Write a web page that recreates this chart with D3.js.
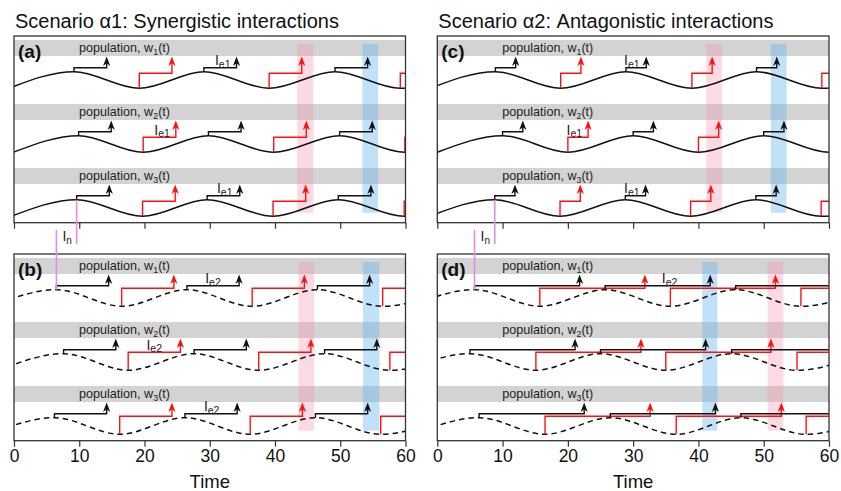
<!DOCTYPE html>
<html><head><meta charset="utf-8">
<script src="https://cdn.jsdelivr.net/npm/d3@7"></script>
<style>
html,body{margin:0;padding:0;background:#fff;}
svg{display:block;font-family:"Liberation Sans",Arial,Helvetica,sans-serif;}
</style>
</head><body>
<svg id="chart" width="841" height="491"></svg>
<script>
// ================= DATA =================
const timeTicks = [0, 10, 20, 30, 40, 50, 60];
const timeDomain = [0, 60];
const halfPeriod = 10;
const titles = ["Scenario \u03b11: Synergistic interactions", "Scenario \u03b12: Antagonistic interactions"];
const panelLabels = ["(a)", "(b)", "(c)", "(d)"];
const rowNames = ["1", "2", "3"];
const intervalNames = ["e1", "e2", "e1", "e2"];
const intervals = [5.0, 8.0, 3.1, 16.1];          // I_e length (time units) per panel

// peak / trough times of w_i(t) per row, per panel
const peaksA   = [[9.2, 29.1, 49.2], [9.9, 29.8, 49.9], [9.6, 29.6, 49.7]];
const troughsA = [[19.2, 39.1, 59.2], [19.8, 39.8, 59.9], [19.7, 39.7, 59.8]];
const peaksB   = [[6.5, 26.5, 46.5], [7.6, 27.6, 47.6], [6.2, 26.2, 46.2]];
const troughsB = [[16.5, 36.5, 56.5], [17.5, 37.5, 57.6], [16.2, 36.2, 56.2]];
const peaksC   = [[8.9, 28.9, 48.9], [10.0, 30.0, 50.0], [8.8, 28.8, 48.8]];
const troughsC = [[18.9, 39.0, 58.9], [20.0, 40.0, 60.0], [18.8, 38.8, 58.8]];
const peaksD   = [[5.7, 25.7, 45.7], [5.0, 25.0, 45.1], [6.4, 26.5, 46.5]];
const troughsD = [[15.7, 35.7, 55.7], [15.1, 35.0, 55.1], [16.5, 36.6, 56.5]];

// highlighted time windows
const pinkWindows = [[43.4, 45.9], [43.6, 46.0], [41.2, 43.6], [50.6, 53.0]];
const blueWindows = [[53.4, 55.8], [53.5, 56.0], [51.1, 53.5], [40.6, 42.9]];

// I_e label anchors: [row, time, attached step type]
const ieLabelsA = [[0, 30.8, "black"], [1, 21.5, "red"], [2, 31.1, "black"]];
const ieLabelsB = [[0, 29.3, "black"], [1, 20.3, "red"], [2, 29.1, "black"]];
const ieLabelsC = [[0, 28.6, "black"], [1, 19.8, "red"], [2, 28.6, "black"]];
const ieLabelsD = [[0, 34.4, "black"]];

// ================= LAYOUT =================
const svg = d3.select("#chart");
const colRanges = [[14, 405.5], [437.3, 829]];
const panelTops = [36, 254];
const panelH = 186.7;
const unitPx = 8.3;                 // 1 population unit (wave amplitude) in px
const yMax = panelH / unitPx;
const rowCenter0 = yMax - 44 / unitPx;
const rowGap = 64 / unitPx;
const bandLo = 24 / unitPx, bandHi = 40 / unitPx;
const blackLvl = 12.3 / unitPx;
const redLvlTop = 6.7 / unitPx, redLvlBot = 9.7 / unitPx;
const tipLvl = 23.5 / unitPx;
const shadeTop = 36 / unitPx, shadeBot = -4.7 / unitPx;

const panels = [
  {col: 0, row: 0, peaks: peaksA, troughs: troughsA, dashed: false, labels: ieLabelsA},
  {col: 0, row: 1, peaks: peaksB, troughs: troughsB, dashed: true,  labels: ieLabelsB},
  {col: 1, row: 0, peaks: peaksC, troughs: troughsC, dashed: false, labels: ieLabelsC},
  {col: 1, row: 1, peaks: peaksD, troughs: troughsD, dashed: true,  labels: ieLabelsD}
];

const arrowPath = (px, py) => `M${px},${py}L${px + 3.6},${py + 9.5}L${px},${py + 6.8}L${px - 3.6},${py + 9.5}Z`;

const defs = svg.append("defs");

panels.forEach((p, pi) => {
  const top = panelTops[p.row];
  const x = d3.scaleLinear().domain(timeDomain).range(colRanges[p.col]);
  const y = d3.scaleLinear().domain([0, yMax]).range([top + panelH, top]);
  p.x = x; p.y = y;
  const [x0, x1] = colRanges[p.col];
  const I = intervals[pi];
  const redLvl = p.row === 0 ? redLvlTop : redLvlBot;
  const center = r => rowCenter0 - r * rowGap;

  defs.append("clipPath").attr("id", "clip" + pi)
    .append("rect").attr("x", x0).attr("y", top).attr("width", x1 - x0).attr("height", panelH);

  const g = svg.append("g");
  const gc = g.append("g").attr("clip-path", `url(#clip${pi})`);

  // grey population bands
  rowNames.forEach((rn, r) => {
    gc.append("rect")
      .attr("x", x0).attr("width", x1 - x0)
      .attr("y", y(center(r) + bandHi)).attr("height", y(center(r) + bandLo) - y(center(r) + bandHi))
      .attr("fill", "#d3d3d3");
  });

  // highlight windows
  [[pinkWindows[pi], "rgba(247,150,175,0.35)"], [blueWindows[pi], "rgba(106,184,238,0.42)"]].forEach(([w, c]) => {
    gc.append("rect")
      .attr("x", x(w[0])).attr("width", x(w[1]) - x(w[0]))
      .attr("y", y(center(0) + shadeTop)).attr("height", y(center(2) + shadeBot) - y(center(0) + shadeTop))
      .attr("fill", c);
  });

  // population labels
  rowNames.forEach((rn, r) => {
    const t = g.append("text")
      .attr("x", x0 + 65).attr("y", y(center(r) + bandHi) + 12)
      .attr("font-size", 12.6).attr("fill", "#222");
    t.append("tspan").text("population, w");
    t.append("tspan").attr("font-size", 8.8).attr("dy", 3).text(rn);
    t.append("tspan").attr("dy", -3).text("(t)");
  });

  // waves
  const line = d3.line().x(d => x(d.t)).y(d => d.y).curve(d3.curveMonotoneX);
  rowNames.forEach((rn, r) => {
    let ext = p.peaks[r].map(t => ({t, v: 1})).concat(p.troughs[r].map(t => ({t, v: -1})));
    ext.sort((a, b) => a.t - b.t);
    ext = [{t: ext[0].t - halfPeriod, v: -ext[0].v}].concat(ext, [{t: ext[ext.length - 1].t + halfPeriod, v: -ext[ext.length - 1].v}]);
    gc.append("path")
      .datum(ext.map(d => ({t: d.t, y: y(center(r) + d.v)})))
      .attr("d", line)
      .attr("fill", "none").attr("stroke", "#111").attr("stroke-width", 1.5)
      .attr("stroke-dasharray", p.dashed ? "5.5,4" : null);
  });

  // interval steps with arrows
  rowNames.forEach((rn, r) => {
    const steps = p.troughs[r].filter(t => t < 60).map(t => ({t, v: -1, lvl: redLvl, c: "#ff1010"}))
      .concat(p.peaks[r].filter(t => t < 60).map(t => ({t, v: 1, lvl: blackLvl, c: "#111"})));
    steps.forEach(s => {
      const xs = x(s.t), xe = x(s.t + I);
      const yStart = y(center(r) + s.v), yL = y(center(r) + s.lvl), yTip = y(center(r) + tipLvl);
      gc.append("path")
        .attr("d", `M${xs},${yStart}V${yL}H${xe}V${yTip + 5}`)
        .attr("fill", "none").attr("stroke", s.c).attr("stroke-width", 1.4);
      gc.append("path").attr("d", arrowPath(xe, yTip)).attr("fill", s.c);
    });
  });

  // I_e labels
  p.labels.forEach(([r, t, kind]) => {
    const lvl = kind === "black" ? blackLvl : redLvl;
    const tx = g.append("text")
      .attr("x", x(t)).attr("y", y(center(r) + lvl) - 2.5)
      .attr("font-size", 14).attr("fill", "#222");
    tx.append("tspan").text("I");
    tx.append("tspan").attr("font-size", 10.5).attr("dy", 2.5).text(intervalNames[pi]);
  });

  // axis
  const axis = d3.axisBottom(x).tickValues(timeTicks).tickSize(6).tickSizeOuter(0);
  if (p.row === 0) axis.tickFormat("");
  const ga = g.append("g").attr("transform", `translate(0,${top + panelH})`).call(axis);
  ga.select(".domain").remove();
  ga.selectAll(".tick line").attr("stroke", "#333").attr("stroke-width", 1.2);
  ga.selectAll(".tick text").attr("font-size", 17.5).attr("fill", "#111")
    .attr("font-family", "'Liberation Sans',Arial,sans-serif");

  // frame
  g.append("rect").attr("x", x0).attr("y", top).attr("width", x1 - x0).attr("height", panelH)
    .attr("fill", "none").attr("stroke", "#333").attr("stroke-width", 1.3);

  // panel label
  g.append("text").attr("x", x0 + 4).attr("y", top + 21.5)
    .attr("font-size", 19).attr("font-weight", "bold").attr("fill", "#111").text(panelLabels[pi]);

  if (p.row === 1) {
    g.append("text").attr("x", (x0 + x1) / 2).attr("y", 488).attr("text-anchor", "middle")
      .attr("font-size", 18.5).attr("fill", "#111").text("Time");
  }
});

// titles
titles.forEach((t, i) => {
  svg.append("text").attr("x", colRanges[i][0] + 1).attr("y", 28)
    .attr("font-size", 20).attr("fill", "#111").text(t);
});

// I_n markers (between top and bottom panels)
[[0, 1], [2, 3]].forEach(([ti, bi]) => {
  const pt = panels[ti], pb = panels[bi];
  const tTop = pt.peaks[2][0], tBot = pb.peaks[0][0];
  const cTop = rowCenter0 - 2 * rowGap, cBot = rowCenter0;
  const xa = pt.x(tTop), xb = pb.x(tBot);
  svg.append("line").attr("x1", xa).attr("x2", xa)
    .attr("y1", pt.y(cTop + 1)).attr("y2", pt.y(-2.6))
    .attr("stroke", "#e68ce6").attr("stroke-width", 1.6);
  svg.append("line").attr("x1", xb).attr("x2", xb)
    .attr("y1", pb.y(25.4)).attr("y2", pb.y(cBot + 1))
    .attr("stroke", "#e68ce6").attr("stroke-width", 1.6);
  const tx = svg.append("text").attr("x", xb + 6).attr("y", pt.y(-2.2))
    .attr("font-size", 14).attr("fill", "#222");
  tx.append("tspan").text("I");
  tx.append("tspan").attr("font-size", 10).attr("dy", 3).text("n");
});
</script>
</body></html>
